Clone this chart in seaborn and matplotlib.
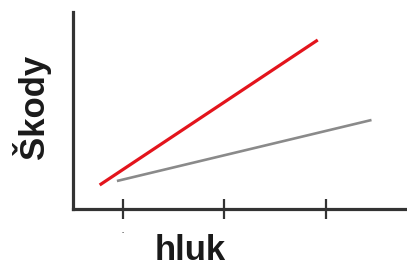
import matplotlib
matplotlib.use("Agg")
import matplotlib.pyplot as plt
import pandas as pd
import seaborn as sns

# data (arbitrary units)
series = ["red", "gray"]
red_x = [0.77, 2.92]
red_y = [2.4, 16.9]
gray_x = [0.94, 3.45]
gray_y = [2.8, 8.9]
tick_pos = [1, 2, 3]
tick_labels = ["·", "", ""]

df = pd.DataFrame({
    "x": red_x + gray_x,
    "y": red_y + gray_y,
    "s": ["red"] * len(red_x) + ["gray"] * len(gray_x),
})

sns.set_style("white")
plt.rcParams["font.family"] = ["Liberation Sans", "DejaVu Sans"]

fig = plt.figure(figsize=(4.07, 2.71), dpi=100)
ax = fig.add_axes([73 / 407, 62 / 271, 334 / 407, 197 / 271])

sns.lineplot(data=df, x="x", y="y", hue="s", hue_order=series,
             palette={"red": "#e3141c", "gray": "#8a8a8a"},
             ax=ax, legend=False, estimator=None, sort=False)
for line, lw in zip(ax.lines, [2.3, 1.9]):
    line.set_linewidth(lw)
    line.set_solid_capstyle("butt")

ax.set_xlim(0.507, 3.80)
ax.set_ylim(0, 19.7)

sns.despine(ax=ax)
for side in ["left", "bottom"]:
    ax.spines[side].set_linewidth(2.3)
    ax.spines[side].set_color("#333333")

ax.set_xticks(tick_pos)
ax.set_xticklabels(tick_labels, fontsize=9, color="#333333")
ax.tick_params(axis="x", bottom=True, direction="inout", length=14, width=1.6,
               color="#333333", pad=6)
ax.set_yticks([])

ax.set_xlabel("")
ax.set_ylabel("")
fig.text(190 / 407, 1 - 251 / 271, "hluk", fontsize=25, fontweight="bold",
         ha="center", va="center", color="#1a1a1a")
fig.text(32 / 407, 1 - 107 / 271, "Škody", fontsize=25, fontweight="bold",
         rotation=90, ha="center", va="center", color="#1a1a1a")

fig.savefig("out.png", dpi=100)
